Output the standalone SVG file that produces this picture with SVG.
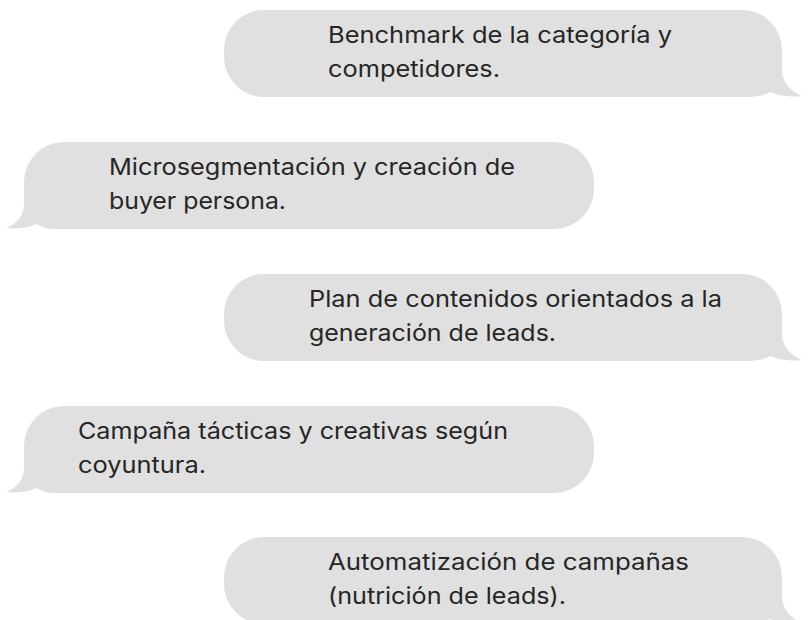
<svg xmlns="http://www.w3.org/2000/svg" width="808" height="620" viewBox="0 0 808 620">
<style>
.b{fill:#e0e0e0}
.t{font-family:Inter,"Open Sans","Liberation Sans",sans-serif;font-size:23px;fill:#262626}
</style>
<rect width="808" height="620" fill="#ffffff"/>
<g id="n1">
<path class="b" d="M264 10H742A40 40 0 0 1 782 50V72Q784 88 802 96Q786 98 770 92Q762 97 750 97H264A40 40 0 0 1 224 57V50A40 40 0 0 1 264 10Z"/>
<text class="t" x="328" y="43" textLength="344" lengthAdjust="spacingAndGlyphs">Benchmark de la categoría y</text>
<text class="t" x="328" y="77" textLength="172" lengthAdjust="spacingAndGlyphs">competidores.</text>
</g>
<g id="n2">
<path class="b" d="M64 142H554A40 40 0 0 1 594 182V189A40 40 0 0 1 554 229H56Q44 229 36 224Q22 230 6 228Q24 220 24 204V182A40 40 0 0 1 64 142Z"/>
<text class="t" x="109" y="175" textLength="406" lengthAdjust="spacingAndGlyphs">Microsegmentación y creación de</text>
<text class="t" x="109" y="209" textLength="177" lengthAdjust="spacingAndGlyphs">buyer persona.</text>
</g>
<g id="n3">
<path class="b" d="M264 274H742A40 40 0 0 1 782 314V336Q784 352 802 360Q786 362 770 356Q762 361 750 361H264A40 40 0 0 1 224 321V314A40 40 0 0 1 264 274Z"/>
<text class="t" x="309" y="307" textLength="413" lengthAdjust="spacingAndGlyphs">Plan de contenidos orientados a la</text>
<text class="t" x="309" y="341" textLength="247" lengthAdjust="spacingAndGlyphs">generación de leads.</text>
</g>
<g id="n4">
<path class="b" d="M64 406H554A40 40 0 0 1 594 446V453A40 40 0 0 1 554 493H56Q44 493 36 488Q22 494 6 492Q24 484 24 468V446A40 40 0 0 1 64 406Z"/>
<text class="t" x="78" y="439" textLength="430" lengthAdjust="spacingAndGlyphs">Campaña tácticas y creativas según</text>
<text class="t" x="78" y="473" textLength="128" lengthAdjust="spacingAndGlyphs">coyuntura.</text>
</g>
<g id="n5">
<path class="b" d="M264 537H742A40 40 0 0 1 782 577V599Q784 615 802 623Q786 625 770 619Q762 624 750 624H264A40 40 0 0 1 224 584V577A40 40 0 0 1 264 537Z"/>
<text class="t" x="328" y="570" textLength="361" lengthAdjust="spacingAndGlyphs">Automatización de campañas</text>
<text class="t" x="328" y="604" textLength="238" lengthAdjust="spacingAndGlyphs">(nutrición de leads).</text>
</g>
<g id="connectors"/>
</svg>
